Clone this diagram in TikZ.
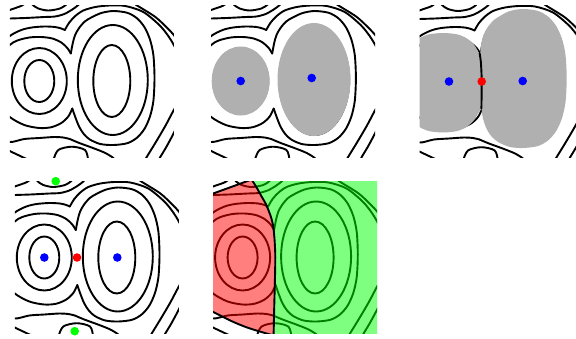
\documentclass[tikz,border=0pt]{standalone}
\definecolor{gfill}{RGB}{176,176,176}
\definecolor{redov}{RGB}{255,0,0}
\definecolor{greenov}{RGB}{0,255,0}
\newcommand{\bndpts}{(9,-78) (14,-70) (19,-61) (23,-54) (26,-47) (28.5,-40) (30.5,-32) (31.8,-20) (32.5,-8) (32.7,0) (32.5,15) (32,35) (31.5,55) (31,78)}
\newcommand{\mycontours}{%
  % inner rings
  \draw[cl] (0,0) ellipse [x radius=15pt, y radius=21pt];
  \draw[cl] (0,0) ellipse [x radius=27.5pt, y radius=33pt];
  \draw[cl] (72.5,0) ellipse [x radius=18.5pt, y radius=36pt];
  \draw[cl] (73.5,-1) ellipse [x radius=35pt, y radius=55pt];
  % level 3 (two lobes meeting in corners)
  \draw[cl] plot[smooth] coordinates {(31.5,-27.5) (28,-33) (22,-38.5) (13,-42.5) (2,-44) (-10,-43.5) (-22,-40.5) (-29.5,-36) (-38,-25) (-41,0) (-38,25) (-29.5,36) (-15,44) (0,47) (12,46.2) (22,42) (29,35.5) (33,27.5)};
  \draw[cl] plot[smooth] coordinates {(31.5,-27.5) (33.5,-38) (35.8,-46) (39.8,-53) (45.5,-59.5) (52,-63.5) (62,-68) (74,-70) (88,-68.2) (97.7,-62.7) (105.2,-53.8) (110.7,-41.4) (114.1,-25.8) (115.2,-3) (114.1,19.8) (110.7,35.4) (105.2,47.8) (97.7,56.7) (88,62.2) (74,64) (61,63) (50.5,58.5) (44.5,53) (40,46) (36.5,37.5) (34,30.5) (33,27.5)};
  % level 4
  \draw[cl] plot[smooth] coordinates {(-40,-34) (-29.5,-45) (-18,-51) (-7.6,-53.5) (5,-54.5) (15.7,-54) (22,-52.5) (25.5,-51)};
  \draw[cl] plot[smooth] coordinates {(25.5,-51) (30,-58.5) (36,-65) (44,-70.5) (56,-74) (70,-75.5) (86,-75) (104,-69) (120,-56) (129,-45) (134.5,-36) (140,-25)};
  \draw[cl] plot[smooth] coordinates {(140,20) (134.5,29) (126,45) (116,62) (107.4,76) (104,82)};
  \draw[cl] plot[smooth] coordinates {(-40,55) (-29.5,61) (-15,58) (0,57) (15,56) (24,56.5) (30.5,58)};
  \draw[cl] plot[smooth] coordinates {(30.5,58) (40,62) (55,67.5) (66,72) (74,77) (78,82)};
  % level 5
  \draw[cl] plot[smooth] coordinates {(-40,-62) (-29.5,-62.5) (-14,-63) (5,-64) (15.7,-64.5) (25,-67) (33,-71.5) (39,-76) (42,-80)};
  \draw[cl] plot[smooth] coordinates {(92,-80) (97,-76) (115.7,-64.3) (128,-53) (134.5,-46) (140,-38)};
  \draw[cl] plot[smooth] coordinates {(140,40) (134.5,52) (127,66) (121,76) (118,82)};
  \draw[cl] plot[smooth] coordinates {(-40,64) (-29.5,70) (-18,75.5) (-11,79) (-8,82)};
  % arcs round the two outer points
  \draw[cl] plot[smooth] coordinates {(-8,-80) (-7,-76.5) (-1,-72.5) (9,-70.5) (20.7,-72.5) (27,-76.5) (29,-80)};
  \draw[cl] plot[smooth] coordinates {(13,82) (14,79) (19,69) (32.4,65.7) (45.7,69) (49,79) (50,82)};
  \draw[cl] plot[smooth] coordinates {(-40,-66) (-29.5,-71) (-17.6,-75.3) (-12,-80)};
}
\newcommand{\panelclip}{\clip (-29.5,-76) rectangle (134.5,76);}
\begin{document}
\begin{tikzpicture}[x=1pt,y=-1pt,
  cl/.style={line width=1.9pt, line join=round, line cap=round},
  dot/.style={circle, inner sep=0pt, minimum size=8.6pt},
  grayreg/.style={fill=gfill}]
\useasboundingbox (0,0) rectangle (576,338);
\fill[white] (0,0) rectangle (576,338);

% ---------- panel 1 ----------
\begin{scope}[shift={(39.3,81)}]
  \begin{scope}\panelclip\mycontours\end{scope}
\end{scope}

% ---------- panel 2 ----------
\begin{scope}[shift={(240.7,81)}]
  \begin{scope}\panelclip\mycontours
    \fill[grayreg] (0,0) ellipse [x radius=29pt, y radius=34.5pt];
    \fill[grayreg] (73.3,-1.5) ellipse [x radius=36.5pt, y radius=56.5pt];
  \end{scope}
  \node[dot, fill=blue] (p2L) at (0,0) {};
  \node[dot, fill=blue] (p2R) at (71,-3) {};
\end{scope}

% ---------- panel 3 ----------
\begin{scope}[shift={(449,81.5)}]
  \begin{scope}\panelclip\mycontours
    \fill[grayreg] plot[smooth] coordinates {(31.1,-26.5) (25.1,-36.7) (17.5,-43.3) (7.9,-47.2) (-6,-48.5) (-19.9,-47.2) (-29.5,-43.3) (-37.1,-36.7) (-42.5,-27.9) (-45.9,-16.5) (-47,0) (-45.9,17.3) (-42.5,29.3) (-37.1,38.6) (-29.5,45.5) (-19.9,49.6) (-6,51) (7.9,49.6) (17.5,45.5) (25.1,38.6) (29,32) (32.5,27)} -- (32.7,0) -- (31.8,-20) -- cycle;
    \fill[grayreg] plot[smooth] coordinates {(31,-27) (32.3,-38) (34.5,-46.5) (38.5,-54) (44.3,-61) (51,-65.5) (61,-70.5) (74,-72.5) (88.8,-70.6) (99.1,-64.9) (107.1,-55.7) (112.9,-42.9) (116.5,-26.6) (117.7,-3) (116.5,20.6) (112.9,36.9) (107.1,49.7) (99.1,58.9) (88.8,64.6) (74,66.5) (61,65.5) (50,61) (43,55.5) (37.7,47.5) (34,37) (32.5,27)} -- (32.7,0) -- (31.8,-20) -- cycle;
    \draw[cl] plot[smooth] coordinates {(30.6,-28.5) (31.8,-20) (32.5,-8) (32.7,0) (32.6,15) (32.4,27)};
  \end{scope}
  \node[dot, fill=blue] (p3L) at (0,0) {};
  \node[dot, fill=red] (p3S) at (32.7,0) {};
  \node[dot, fill=blue] (p3R) at (73.7,-0.5) {};
\end{scope}

% ---------- panel 4 ----------
\begin{scope}[shift={(44.3,257.5)}]
  \begin{scope}\panelclip\mycontours\end{scope}
  \node[dot, fill=blue] (p4L) at (0,0) {};
  \node[dot, fill=red] (p4S) at (32.7,0) {};
  \node[dot, fill=blue] (p4R) at (73,0) {};
  \node[dot, fill=green] (p4T) at (11.4,-76.3) {};
  \node[dot, fill=green] (p4B) at (30.4,73.7) {};
\end{scope}

% ---------- panel 5 ----------
\begin{scope}[shift={(242.6,257.5)}]
  \begin{scope}\panelclip\mycontours
    \fill[redov, opacity=0.5] plot[smooth] coordinates {\bndpts}
      -- plot[smooth] coordinates {(31,78) (7.4,71) (-9.3,64.4) (-29.5,54.4) (-36,51)}
      -- (-36,-62) -- plot[smooth] coordinates {(-36,-62) (-29.5,-64) (-9.3,-71.3) (9,-78)} -- cycle;
    \fill[greenov, opacity=0.5] plot[smooth] coordinates {\bndpts}
      -- (31,90) -- (140,90) -- (140,-90) -- (9,-90) -- cycle;
    \draw[cl] plot[smooth] coordinates {\bndpts};
    \draw[cl] plot[smooth] coordinates {(31,78) (7.4,71) (-9.3,64.4) (-29.5,54.4) (-36,51)};
    \draw[cl] plot[smooth] coordinates {(-36,-62) (-29.5,-64) (-9.3,-71.3) (9,-78)};
  \end{scope}
\end{scope}
\end{tikzpicture}
\end{document}
